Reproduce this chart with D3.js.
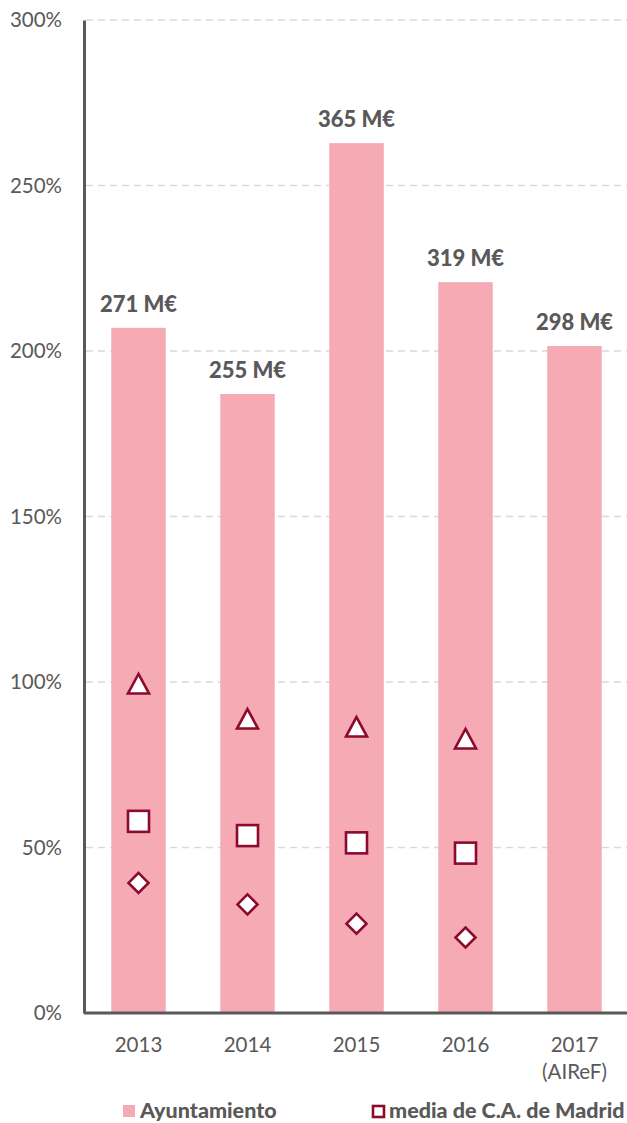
<!DOCTYPE html>
<html><head><meta charset="utf-8">
<script src="https://cdn.jsdelivr.net/npm/d3@7"></script>
<style>body{margin:0;background:#fff;overflow:hidden}svg{display:block}</style>
</head><body>
<svg id="c" width="627" height="1123"></svg>
<script>
const years = ["2013","2014","2015","2016","2017"];
const yearSub = ["","","","","(AIReF)"];
const ayuntamiento = [207, 187, 262.8, 220.8, 201.5];
const amountLabels = ["271 M€","255 M€","365 M€","319 M€","298 M€"];
const mediaCA = [57.9, 53.6, 51.4, 48.3];
const triSeries = [99.4, 88.8, 86.4, 82.8];
const diaSeries = [39.3, 32.8, 27.0, 22.8];
const yTicks = [0,50,100,150,200,250,300];
const legendNames = ["Ayuntamiento","media de C.A. de Madrid"];

const pink = "#F6AAB4", dark = "#8B0A2E", grey = "#595959";
const font = "Lato, 'Open Sans', sans-serif";
const svg = d3.select("#c");
const x = d3.scaleBand().domain(years).range([84, 629]).paddingInner(0.5).paddingOuter(0.25);
const y = d3.scaleLinear().domain([0,300]).range([1013, 20]);

// grid
svg.append("g").selectAll("line").data(yTicks.filter(d=>d>0)).join("line")
  .attr("x1",86).attr("x2",627).attr("y1",d=>y(d)).attr("y2",d=>y(d))
  .attr("stroke","#d9d9d9").attr("stroke-width",1.5).attr("stroke-dasharray","7,5");

// bars
svg.append("g").selectAll("rect").data(ayuntamiento).join("rect")
  .attr("x",(d,i)=>x(years[i])).attr("width",x.bandwidth())
  .attr("y",d=>y(d)).attr("height",d=>y(0)-y(d)).attr("fill",pink);

// labels
svg.append("g").selectAll("text").data(ayuntamiento).join("text")
  .attr("x",(d,i)=>x(years[i])+x.bandwidth()/2).attr("y",d=>y(d)-16)
  .attr("text-anchor","middle").attr("font-family",font).attr("font-weight","900")
  .attr("font-size",22).attr("fill",grey).text((d,i)=>amountLabels[i]);

// markers
const cx = i => x(years[i]) + x.bandwidth()/2;
const mk = svg.append("g").attr("fill","#fff").attr("stroke",dark).attr("stroke-width",2.6);
mk.selectAll(".sq").data(mediaCA).join("rect").attr("class","sq")
  .attr("x",(d,i)=>cx(i)-10.5).attr("y",d=>y(d)-10.5).attr("width",21).attr("height",21);
mk.selectAll(".tr").data(triSeries).join("path").attr("class","tr")
  .attr("d",(d,i)=>{const c=cx(i),m=y(d);return `M${c},${m-10}L${c+10.5},${m+9.5}L${c-10.5},${m+9.5}Z`;});
mk.selectAll(".di").data(diaSeries).join("path").attr("class","di")
  .attr("d",(d,i)=>{const c=cx(i),m=y(d);return `M${c},${m-10}L${c+10},${m}L${c},${m+10}L${c-10},${m}Z`;});

// axes
const ya = svg.append("g").attr("transform","translate(84,0)")
  .call(d3.axisLeft(y).tickValues(yTicks).tickFormat(d=>d+"%").tickSize(0).tickPadding(22));
ya.select(".domain").attr("stroke",grey).attr("stroke-width",3);
ya.selectAll("text").attr("font-family",font).attr("font-size",20.5).attr("fill",grey);
svg.append("line").attr("x1",84).attr("x2",627).attr("y1",y(0)).attr("y2",y(0))
  .attr("stroke",grey).attr("stroke-width",3);
const xa = svg.append("g").attr("transform",`translate(0,${y(0)})`)
  .call(d3.axisBottom(x).tickSize(0).tickPadding(24));
xa.select(".domain").remove();
xa.selectAll("text").attr("font-family",font).attr("font-size",20.5).attr("fill",grey);
svg.append("g").selectAll("text").data(yearSub).join("text")
  .attr("x",(d,i)=>cx(i)).attr("y",y(0)+66).attr("text-anchor","middle")
  .attr("font-family",font).attr("font-size",20.5).attr("fill",grey).text(d=>d);

// legend
const lg = svg.append("g");
lg.append("rect").attr("x",123).attr("y",1105).attr("width",12).attr("height",12).attr("fill",pink);
lg.append("text").attr("x",140).attr("y",1118).attr("font-family",font).attr("font-weight","900")
  .attr("font-size",21.5).attr("fill",grey).text(legendNames[0]);
lg.append("rect").attr("x",373).attr("y",1106).attr("width",11).attr("height",11)
  .attr("fill","#fff").attr("stroke",dark).attr("stroke-width",2.6);
lg.append("text").attr("x",389).attr("y",1118).attr("font-family",font).attr("font-weight","900")
  .attr("font-size",21.5).attr("fill",grey).text(legendNames[1]);
</script>
</body></html>
